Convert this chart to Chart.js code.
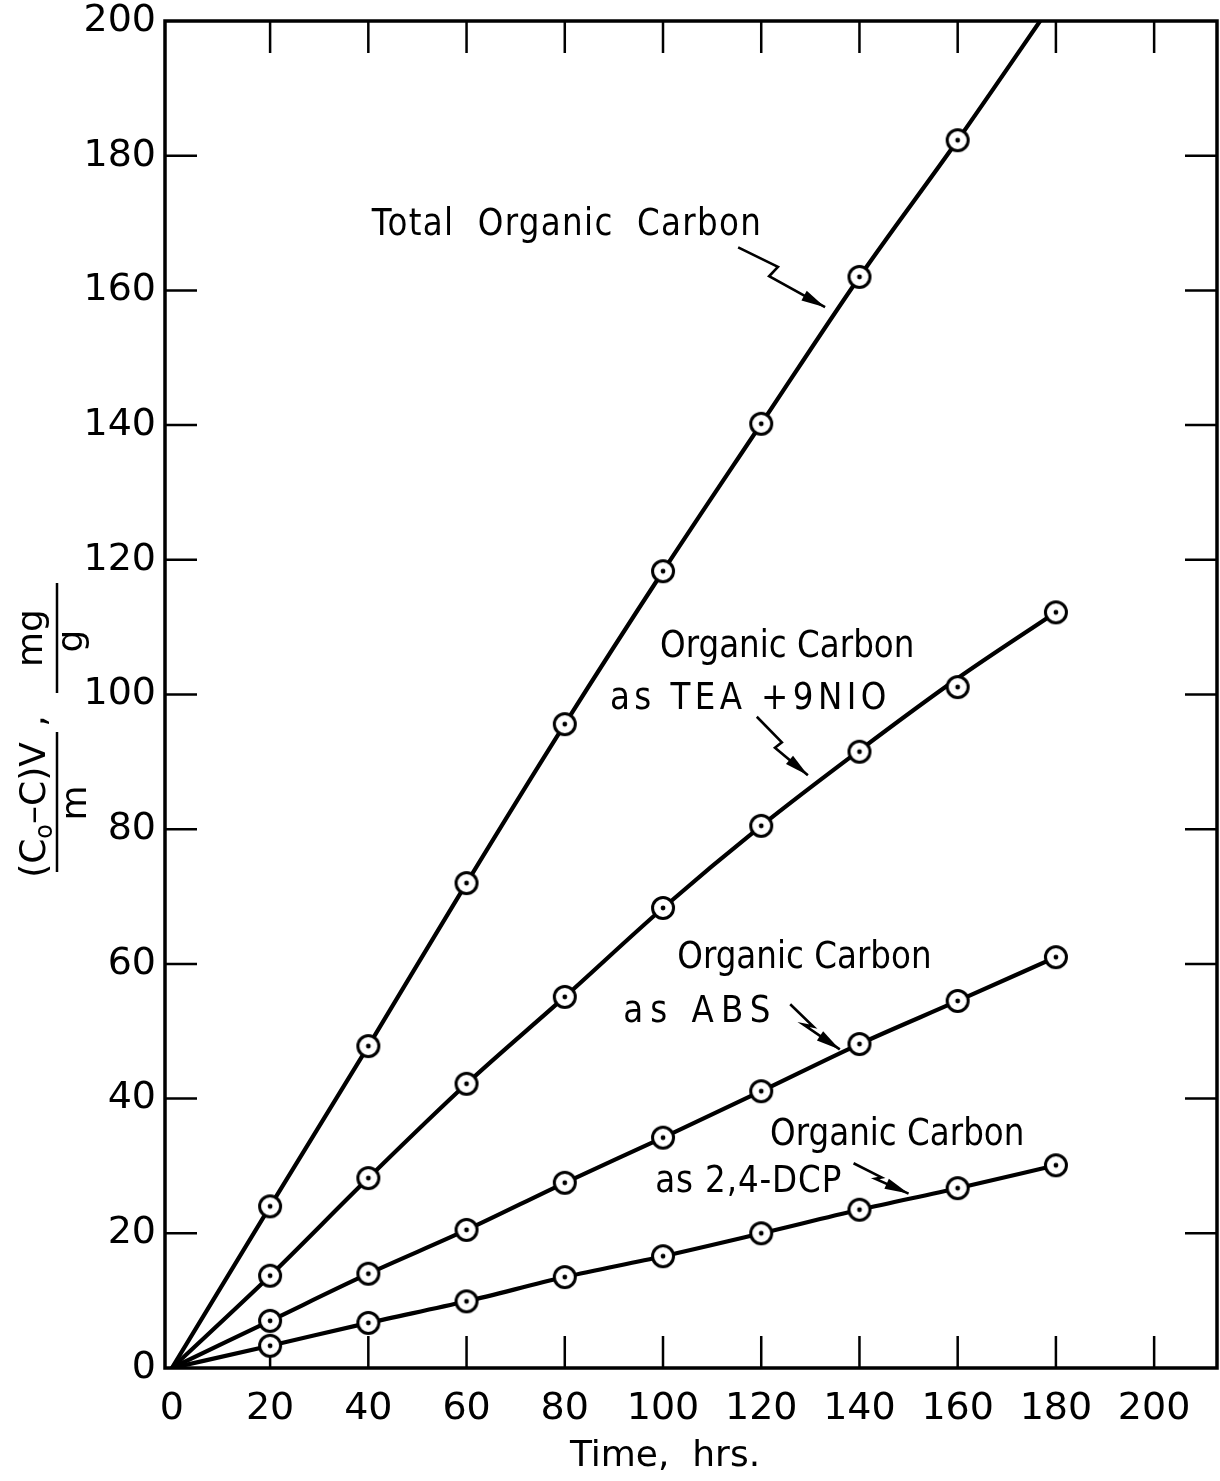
<!DOCTYPE html>
<html>
<head>
<meta charset="utf-8">
<script src="https://cdn.jsdelivr.net/npm/chart.js@4.4.1/dist/chart.umd.min.js"></script>
<style>
  html, body { margin: 0; padding: 0; background: #fff; }
  canvas { display: block; }
</style>
</head>
<body>
<canvas id="carbonChart" width="1220" height="1481"></canvas>
<script>
// sampling times (hrs) of the measured points
const times = [20, 40, 60, 80, 100, 120, 140, 160, 180];

// measured uptake (Co-C)V/m, mg/g
const tocPoints = [24.0, 47.8, 72.0, 95.6, 118.3, 140.2, 162.0, 182.3];
const teaPoints = [13.7, 28.2, 42.2, 55.1, 68.3, 80.5, 91.5, 101.1, 112.2];
const absPoints = [7.0, 14.0, 20.5, 27.5, 34.2, 41.1, 48.1, 54.5, 61.0];
const dcpPoints = [3.3, 6.7, 9.9, 13.5, 16.6, 20.0, 23.5, 26.7, 30.1];

// hand-drawn curves through the data, all starting at the origin
const curveTimes = [0, 20, 40, 60, 80, 100, 120, 140, 160, 180];
const tocCurve = [0, 24.0, 47.8, 72.0, 95.6, 118.3, 140.2, 162.0, 182.3, 203.4];
const teaCurve = [0, 13.7, 28.2, 42.2, 55.1, 68.3, 80.5, 91.7, 102.4, 112.2];
const absCurve = [0, 7.0, 14.0, 20.5, 27.5, 34.2, 41.1, 48.1, 54.5, 61.0];
const dcpCurve = [0, 3.3, 6.7, 9.9, 13.5, 16.6, 20.0, 23.5, 26.7, 30.1];

const xTicks = [0, 20, 40, 60, 80, 100, 120, 140, 160, 180, 200];
const yTicks = [0, 20, 40, 60, 80, 100, 120, 140, 160, 180, 200];

const FONT = "'DejaVu Sans', sans-serif";
const TICK = 32;

// curve labels with their squiggle arrows (data units); last text field is letter spacing
const callouts = [
  { text: [['Total  Organic  Carbon', 40.7, 168.2, 1.5]],
    arrow: [[115.3, 166.4], [123.4, 163.5], [121.6, 162.1], [133.0, 157.5]] },
  { text: [['Organic Carbon', 99.4, 105.6, 0], ['as TEA +9NIO', 89.2, 97.8, 5]],
    arrow: [[119.1, 96.7], [124.2, 92.9], [122.8, 92.1], [129.5, 88.0]] },
  { text: [['Organic Carbon', 102.9, 59.4, 0], ['as ABS', 91.9, 51.4, 8]],
    arrow: [[125.9, 54.0], [130.6, 50.7], [128.6, 51.0], [136.0, 47.3]] },
  { text: [['Organic Carbon', 121.8, 33.1, 0], ['as 2,4-DCP', 98.4, 26.1, 1]],
    arrow: [[138.8, 30.4], [144.5, 28.3], [143.2, 28.1], [150.0, 25.9]] }
];

function pairs(xs, ys) {
  return ys.map((v, i) => ({ x: xs[i], y: v }));
}

// open circle with a centre dot
function makeMarker() {
  const c = document.createElement('canvas');
  c.width = 28; c.height = 28;
  const g = c.getContext('2d');
  g.beginPath();
  g.arc(14, 14, 10.5, 0, Math.PI * 2);
  g.fillStyle = '#fff';
  g.fill();
  g.lineWidth = 3;
  g.strokeStyle = '#000';
  g.stroke();
  g.beginPath();
  g.arc(14, 14, 2.4, 0, Math.PI * 2);
  g.fillStyle = '#000';
  g.fill();
  return c;
}
const marker = makeMarker();

function markerSet(data) {
  return {
    data: pairs(times, data),
    showLine: false,
    pointStyle: marker,
    pointRadius: 11,
    order: 1
  };
}

function curveSet(data) {
  return {
    data: pairs(curveTimes, data),
    showLine: true,
    borderColor: '#000',
    borderWidth: 4.2,
    pointRadius: 0,
    cubicInterpolationMode: 'monotone',
    order: 2
  };
}

const framePlugin = {
  id: 'frame',
  beforeDatasetsDraw(chart) {
    const { ctx, chartArea: a, scales: { x, y } } = chart;
    ctx.save();
    ctx.strokeStyle = '#000';
    ctx.lineWidth = 2.5;
    ctx.beginPath();
    xTicks.filter(v => v > 0).forEach(v => {
      const px = x.getPixelForValue(v);
      ctx.moveTo(px, a.bottom); ctx.lineTo(px, a.bottom - TICK);
      ctx.moveTo(px, a.top); ctx.lineTo(px, a.top + TICK);
    });
    yTicks.filter(v => v > 0 && v < 200).forEach(v => {
      const py = y.getPixelForValue(v);
      ctx.moveTo(a.left, py); ctx.lineTo(a.left + TICK, py);
      ctx.moveTo(a.right, py); ctx.lineTo(a.right - TICK, py);
    });
    ctx.stroke();
    ctx.lineWidth = 3.5;
    ctx.strokeRect(a.left, a.top, a.right - a.left, a.bottom - a.top);
    ctx.restore();
  }
};

// lettering is a bit taller and narrower than DejaVu, so squeeze it sideways
const SQUEEZE = 0.88;
function lettering(ctx, t, px, py, sp) {
  ctx.save();
  ctx.translate(px, py);
  ctx.scale(SQUEEZE, 1);
  ctx.letterSpacing = sp + 'px';
  ctx.fillText(t, 0, 0);
  ctx.restore();
}

const calloutPlugin = {
  id: 'callouts',
  afterDatasetsDraw(chart) {
    const { ctx, scales: { x, y } } = chart;
    ctx.save();
    ctx.fillStyle = '#000';
    ctx.strokeStyle = '#000';
    ctx.font = '37px ' + FONT;
    ctx.textBaseline = 'alphabetic';
    ctx.textAlign = 'left';
    callouts.forEach(c => {
      c.text.forEach(([t, tx, ty, sp]) => {
        lettering(ctx, t, x.getPixelForValue(tx), y.getPixelForValue(ty), sp);
      });
      const pts = c.arrow.map(([ax, ay]) => [x.getPixelForValue(ax), y.getPixelForValue(ay)]);
      ctx.lineWidth = 2.6;
      ctx.lineJoin = 'miter';
      ctx.beginPath();
      ctx.moveTo(pts[0][0], pts[0][1]);
      for (let i = 1; i < pts.length; i++) ctx.lineTo(pts[i][0], pts[i][1]);
      ctx.stroke();
      // filled head at the last segment
      const [p, q] = [pts[pts.length - 2], pts[pts.length - 1]];
      const ang = Math.atan2(q[1] - p[1], q[0] - p[0]);
      const len = 24, half = 5.5;
      ctx.beginPath();
      ctx.moveTo(q[0], q[1]);
      ctx.lineTo(q[0] - len * Math.cos(ang) + half * Math.sin(ang), q[1] - len * Math.sin(ang) - half * Math.cos(ang));
      ctx.lineTo(q[0] - len * Math.cos(ang) - half * Math.sin(ang), q[1] - len * Math.sin(ang) + half * Math.cos(ang));
      ctx.closePath();
      ctx.fill();
    });
    ctx.restore();
  }
};

// axis titles: "Time, hrs." and the rotated (Co-C)V/m , mg/g
const titlePlugin = {
  id: 'titles',
  afterDraw(chart) {
    const { ctx } = chart;
    ctx.save();
    ctx.fillStyle = '#000';
    ctx.strokeStyle = '#000';
    ctx.font = '36px ' + FONT;
    ctx.textAlign = 'center';
    ctx.textBaseline = 'alphabetic';
    ctx.fillText('Time,  hrs.', 665, 1466);

    ctx.rotate(-Math.PI / 2);
    // in this frame a screen point (sx, sy) is (-sy, sx)
    const big = '36px ' + FONT, small = '24px ' + FONT;
    const parts = [['(C', big, 0], ['o', small, 7], ['\u2013C)V', big, 0]];
    let w = 0;
    parts.forEach(([t, f]) => { ctx.font = f; w += ctx.measureText(t).width; });
    let u = -810 - w / 2;
    ctx.textAlign = 'left';
    parts.forEach(([t, f, dv]) => {
      ctx.font = f;
      ctx.fillText(t, u, 45 + dv);
      u += ctx.measureText(t).width;
    });
    ctx.font = big;
    ctx.textAlign = 'center';
    ctx.fillText(',', -721, 45);
    ctx.fillText('m', -803, 86);
    ctx.fillText('mg', -638, 42);
    ctx.fillText('g', -641, 82);
    ctx.lineWidth = 2.5;
    ctx.beginPath();
    ctx.moveTo(-872, 57); ctx.lineTo(-732, 57);
    ctx.moveTo(-693, 57); ctx.lineTo(-583, 57);
    ctx.stroke();
    ctx.restore();
  }
};

new Chart(document.getElementById('carbonChart'), {
  type: 'scatter',
  data: {
    datasets: [
      markerSet(tocPoints), markerSet(teaPoints), markerSet(absPoints), markerSet(dcpPoints),
      curveSet(tocCurve), curveSet(teaCurve), curveSet(absCurve), curveSet(dcpCurve)
    ]
  },
  options: {
    responsive: false,
    devicePixelRatio: 1,
    animation: false,
    events: [],
    layout: { autoPadding: false, padding: { top: 21, right: 3, left: 0, bottom: 0 } },
    plugins: { legend: { display: false }, tooltip: { enabled: false } },
    scales: {
      x: {
        type: 'linear',
        min: -1.4,
        max: 212.8,
        afterBuildTicks: s => { s.ticks = xTicks.map(v => ({ value: v })); },
        afterFit: s => { s.height = 113; s.paddingLeft = 0; s.paddingRight = 0; },
        grid: { display: false, drawTicks: false },
        border: { display: false },
        ticks: { color: '#000', padding: 22, maxRotation: 0, font: { family: FONT, size: 38, lineHeight: 1 } }
      },
      y: {
        type: 'linear',
        min: 0,
        max: 200,
        afterBuildTicks: s => { s.ticks = yTicks.map(v => ({ value: v })); },
        afterFit: s => { s.width = 165; s.paddingTop = 0; s.paddingBottom = 0; },
        grid: { display: false, drawTicks: false },
        border: { display: false },
        ticks: { color: '#000', padding: 9, font: { family: FONT, size: 38, lineHeight: 1 } }
      }
    }
  },
  plugins: [framePlugin, calloutPlugin, titlePlugin]
});
</script>
</body>
</html>
